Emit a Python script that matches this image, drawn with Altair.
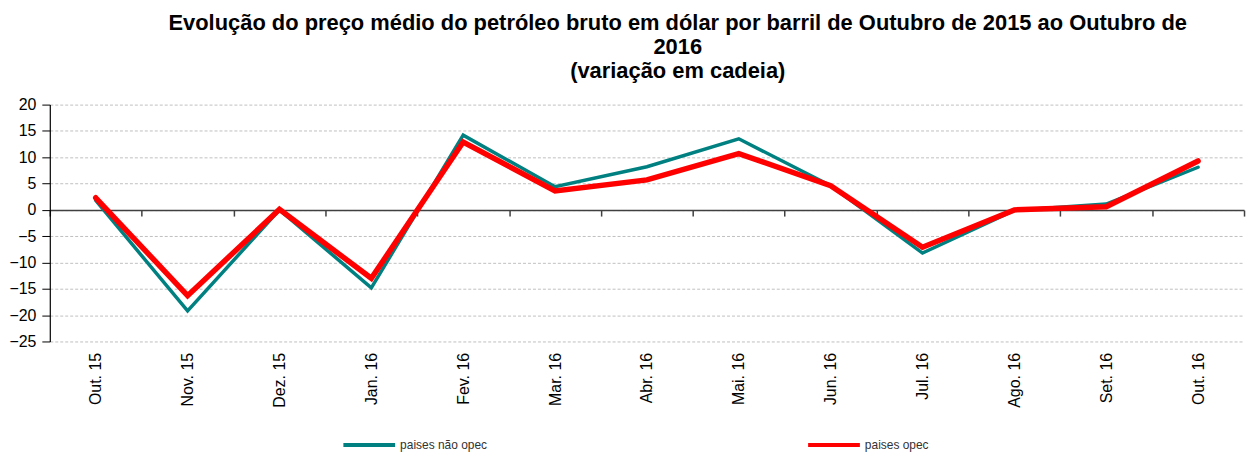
import altair as alt
import pandas as pd

months = ["Out. 15", "Nov. 15", "Dez. 15", "Jan. 16", "Fev. 16", "Mar. 16", "Abr. 16",
          "Mai. 16", "Jun. 16", "Jul. 16", "Ago. 16", "Set. 16", "Out. 16"]
nao_opec = [1.8, -19.2, 0.0, -14.8, 14.2, 4.4, 8.2, 13.5, 4.6, -8.2, -0.1, 1.1, 8.1]
opec = [2.3, -16.3, 0.1, -13.0, 12.9, 3.6, 5.7, 10.7, 4.6, -7.1, 0.0, 0.6, 9.3]
series_names = ["paises não opec", "paises opec"]
series_colors = ["#008080", "#FF0000"]

rows = []
for m, v in zip(months, nao_opec):
    rows.append({"mes": m, "valor": v, "serie": series_names[0]})
for m, v in zip(months, opec):
    rows.append({"mes": m, "valor": v, "serie": series_names[1]})
df = pd.DataFrame(rows)

font = "Liberation Sans"

x_enc = alt.X("mes:N", sort=months, title=None,
              scale=alt.Scale(type="band", paddingInner=0, paddingOuter=0),
              axis=alt.Axis(orient="bottom", offset=-132, tickBand="extent",
                            domainColor="#404040", domainWidth=1.5, tickColor="#404040",
                            tickSize=6, tickWidth=1.5, labelAngle=270, labelAlign="right",
                            labelBaseline="middle", labelPadding=137, labelFontSize=16,
                            labelFont=font, labelColor="#000000", grid=False))
y_enc = alt.Y("valor:Q", title=None,
              scale=alt.Scale(domain=[-25, 20], nice=False, zero=False),
              axis=alt.Axis(values=list(range(-25, 21, 5)), grid=True, gridColor="#c0c0c0",
                            gridDash=[3, 2], gridWidth=1, domainColor="#000000", domainWidth=1.2,
                            tickColor="#000000", tickSize=8, labelPadding=6, labelFontSize=16,
                            labelFont=font, labelColor="#000000"))
color_enc = alt.Color("serie:N", title=None,
                      scale=alt.Scale(domain=series_names, range=series_colors),
                      legend=alt.Legend(orient="none", legendX=293, legendY=314,
                                        direction="horizontal", columns=2, columnPadding=314,
                                        symbolType="stroke", symbolSize=2704,
                                        symbolStrokeWidth=4, labelFontSize=12, labelFont=font,
                                        labelColor="#333333", labelOffset=3))

base = alt.Chart(df).encode(x=x_enc, y=y_enc, color=color_enc)

teal = base.transform_filter(alt.datum.serie == series_names[0]).mark_line(
    strokeWidth=3.5, strokeCap="round")
red = base.transform_filter(alt.datum.serie == series_names[1]).mark_line(
    strokeWidth=5.5, strokeCap="round")

chart = alt.layer(teal, red).properties(
    width=1200, height=238,
    autosize=alt.AutoSizeParams(type="none"),
    padding={"left": 42, "top": 96, "right": 5, "bottom": 111},
    title=alt.TitleParams(
        text=["Evolução do preço médio do petróleo bruto em dólar por barril de Outubro de 2015 ao Outubro de",
              "2016", "(variação em cadeia)"],
        font=font, fontSize=22, fontWeight="bold", color="#000000", anchor="middle",
        dx=31, offset=14, lineHeight=24)
).configure_view(stroke=None)

chart.save("out.html", embed_options={"renderer": "svg", "actions": False})
